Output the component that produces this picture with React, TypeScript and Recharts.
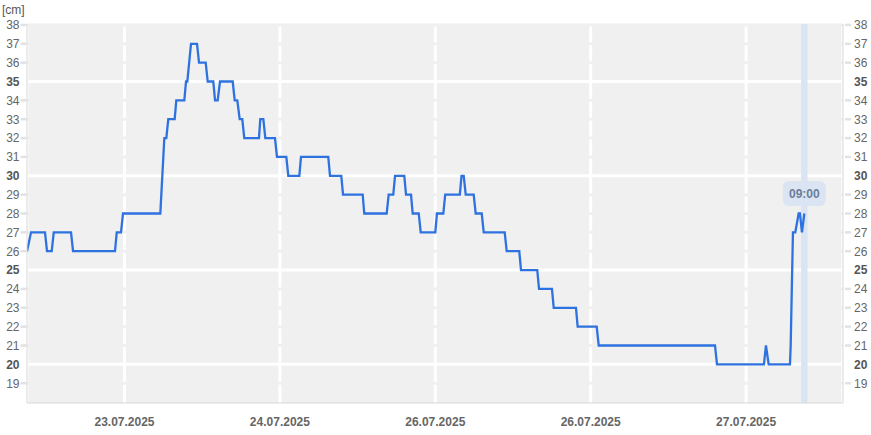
import React from 'react';
import {
  LineChart, Line, XAxis, YAxis, CartesianGrid, ReferenceLine, ReferenceDot
} from 'recharts';

// hours counted from 23.07.2025 00:00
const hours = [
  -15.06, -14.44, -12.28, -11.97, -11.24, -10.93, -8.26, -7.95, -1.47, -1.2, -0.54, -0.23,
  5.53, 6.15, 6.46, 6.76, 7.75, 8.0, 9.24, 9.5, 9.7, 10.27, 11.2, 11.51, 12.54, 12.85,
  13.71, 13.98, 14.39, 14.75, 16.71, 17.02, 17.42, 17.79, 18.19, 18.5, 20.77, 20.97,
  21.44, 21.75, 23.24, 23.55, 24.99, 25.3, 27.0, 27.26, 31.47, 31.74, 33.48, 33.75,
  36.79, 37.03, 40.49, 40.8, 41.51, 41.78, 43.21, 43.48, 44.25, 44.51, 45.44, 45.75,
  48.0, 48.26, 49.24, 49.53, 51.79, 52.05, 52.39, 52.7, 53.93, 54.24, 55.17, 55.48,
  58.72, 59.03, 60.97, 61.24, 63.75, 64.02, 66.02, 66.29, 69.73, 69.99, 72.93, 73.24,
  91.2, 91.51, 98.76, 99.07, 99.49, 102.78, 102.89, 103.24, 103.6, 104.12, 104.32, 104.63, 105.0
];
const levels = [
  26, 27, 27, 26, 26, 27, 27, 26, 26, 27, 27, 28,
  28, 32, 32, 33, 33, 34, 34, 35, 35, 37, 37, 36, 36, 35,
  35, 34, 34, 35, 35, 34, 34, 33, 33, 32, 32, 33,
  33, 32, 32, 31, 31, 30, 30, 31, 31, 30, 30, 29,
  29, 28, 28, 29, 29, 30, 30, 29, 29, 28, 28, 27,
  27, 28, 28, 29, 29, 30, 30, 29, 29, 28, 28, 27,
  27, 26, 26, 25, 25, 24, 24, 23, 23, 22, 22, 21,
  21, 20, 20, 21, 20, 20, 21, 27, 27, 28, 28, 27, 28
];

const dayTicks = [0, 24, 48, 72, 96];
const dayLabels = ['23.07.2025', '24.07.2025', '26.07.2025', '26.07.2025', '27.07.2025'];
const levelTicks = [19, 20, 21, 22, 23, 24, 25, 26, 27, 28, 29, 30, 31, 32, 33, 34, 35, 36, 37, 38];
const majorLevels = [20, 25, 30, 35];
const cursorHour = 105;
const cursorLabel = '09:00';

const FONT = '"Liberation Sans", Arial, Helvetica, sans-serif';
const BG = '#f0f0f0';
const LINE = '#2e72df';

const LeftTick = ({ x, y, payload }: any) => {
  const major = majorLevels.includes(payload.value);
  return (
    <g>
      {!major && <line x1={x + 1} x2={x + 7} y1={y} y2={y} stroke="#e2e2e2" strokeWidth={2.5} />}
      <text x={x} y={y} dy="0.36em" textAnchor="end" fontFamily={FONT} fontSize={12}
        fontWeight={major ? 700 : 400} fill={major ? '#555' : '#666'}>{payload.value}</text>
    </g>
  );
};

const RightTick = ({ x, y, payload }: any) => {
  const major = majorLevels.includes(payload.value);
  return (
    <g>
      {!major && <line x1={x - 9} x2={x - 3} y1={y} y2={y} stroke="#e2e2e2" strokeWidth={2.5} />}
      <text x={x} y={y} dy="0.36em" textAnchor="start" fontFamily={FONT} fontSize={12}
        fontWeight={major ? 700 : 400} fill={major ? '#555' : '#666'}>{payload.value}</text>
    </g>
  );
};

const DayTick = ({ x, y, payload }: any) => (
  <text x={x} y={y} dy={23} textAnchor="middle" fontFamily={FONT} fontSize={12} fontWeight={700} fill="#666">
    {dayLabels[dayTicks.indexOf(payload.value)]}
  </text>
);

const CursorBadge = ({ cx, cy }: any) => (
  <g>
    <rect x={cx - 21.5} y={cy - 12.5} width={43} height={25} rx={6} fill="#dbe4f3" />
    <text x={cx} y={cy} dy="0.36em" textAnchor="middle" fontFamily={FONT} fontSize={12} fontWeight={700} fill="#6b7e99">
      {cursorLabel}
    </text>
  </g>
);

export default function App() {
  const data = hours.map((h, i) => ({ h, cm: levels[i] }));

  return (
    <div style={{ position: 'absolute', left: 0, top: 0, width: 871, height: 435, background: '#fff' }}>
      <div style={{ position: 'absolute', left: 2, top: 3, fontFamily: FONT, fontSize: 12, color: '#555' }}>[cm]</div>
      <LineChart width={871} height={435} data={data} margin={{ top: 24, right: 0, bottom: 0, left: 0 }}>
        <CartesianGrid fill={BG} stroke="#ffffff" strokeWidth={3} horizontal={false} />
        <XAxis
          dataKey="h"
          type="number"
          domain={[-15.06, 110.97]}
          allowDataOverflow
          ticks={dayTicks}
          interval={0}
          height={32}
          tickSize={0}
          tickMargin={0}
          tickLine={false}
          axisLine={{ stroke: '#d8d8d8' }}
          tick={<DayTick />}
        />
        <YAxis
          yAxisId="left"
          orientation="left"
          type="number"
          width={27}
          domain={[17.95, 38.05]}
          allowDataOverflow
          ticks={levelTicks}
          interval={0}
          tickSize={6}
          tickMargin={1.5}
          tickLine={false}
          axisLine={{ stroke: '#d8d8d8' }}
          tick={<LeftTick />}
        />
        <YAxis
          yAxisId="right"
          orientation="right"
          type="number"
          width={28}
          domain={[17.95, 38.05]}
          allowDataOverflow
          ticks={levelTicks}
          interval={0}
          tickSize={8}
          tickMargin={3}
          tickLine={false}
          axisLine={{ stroke: '#d8d8d8' }}
          tick={<RightTick />}
        />
        {levelTicks.map(v => (
          <ReferenceLine
            key={v}
            yAxisId="left"
            y={v}
            stroke={majorLevels.includes(v) ? '#ffffff' : BG}
            strokeWidth={3}
          />
        ))}
        {/* hover cursor band */}
        <ReferenceLine yAxisId="left" x={cursorHour} stroke="#dbe4f3" strokeWidth={6.5} />
        <Line
          yAxisId="left"
          type="linear"
          dataKey="cm"
          stroke={LINE}
          strokeWidth={2.3}
          dot={false}
          isAnimationActive={false}
        />
        <ReferenceDot yAxisId="left" x={cursorHour} y={29.06} r={0} shape={<CursorBadge />} />
      </LineChart>
    </div>
  );
}
